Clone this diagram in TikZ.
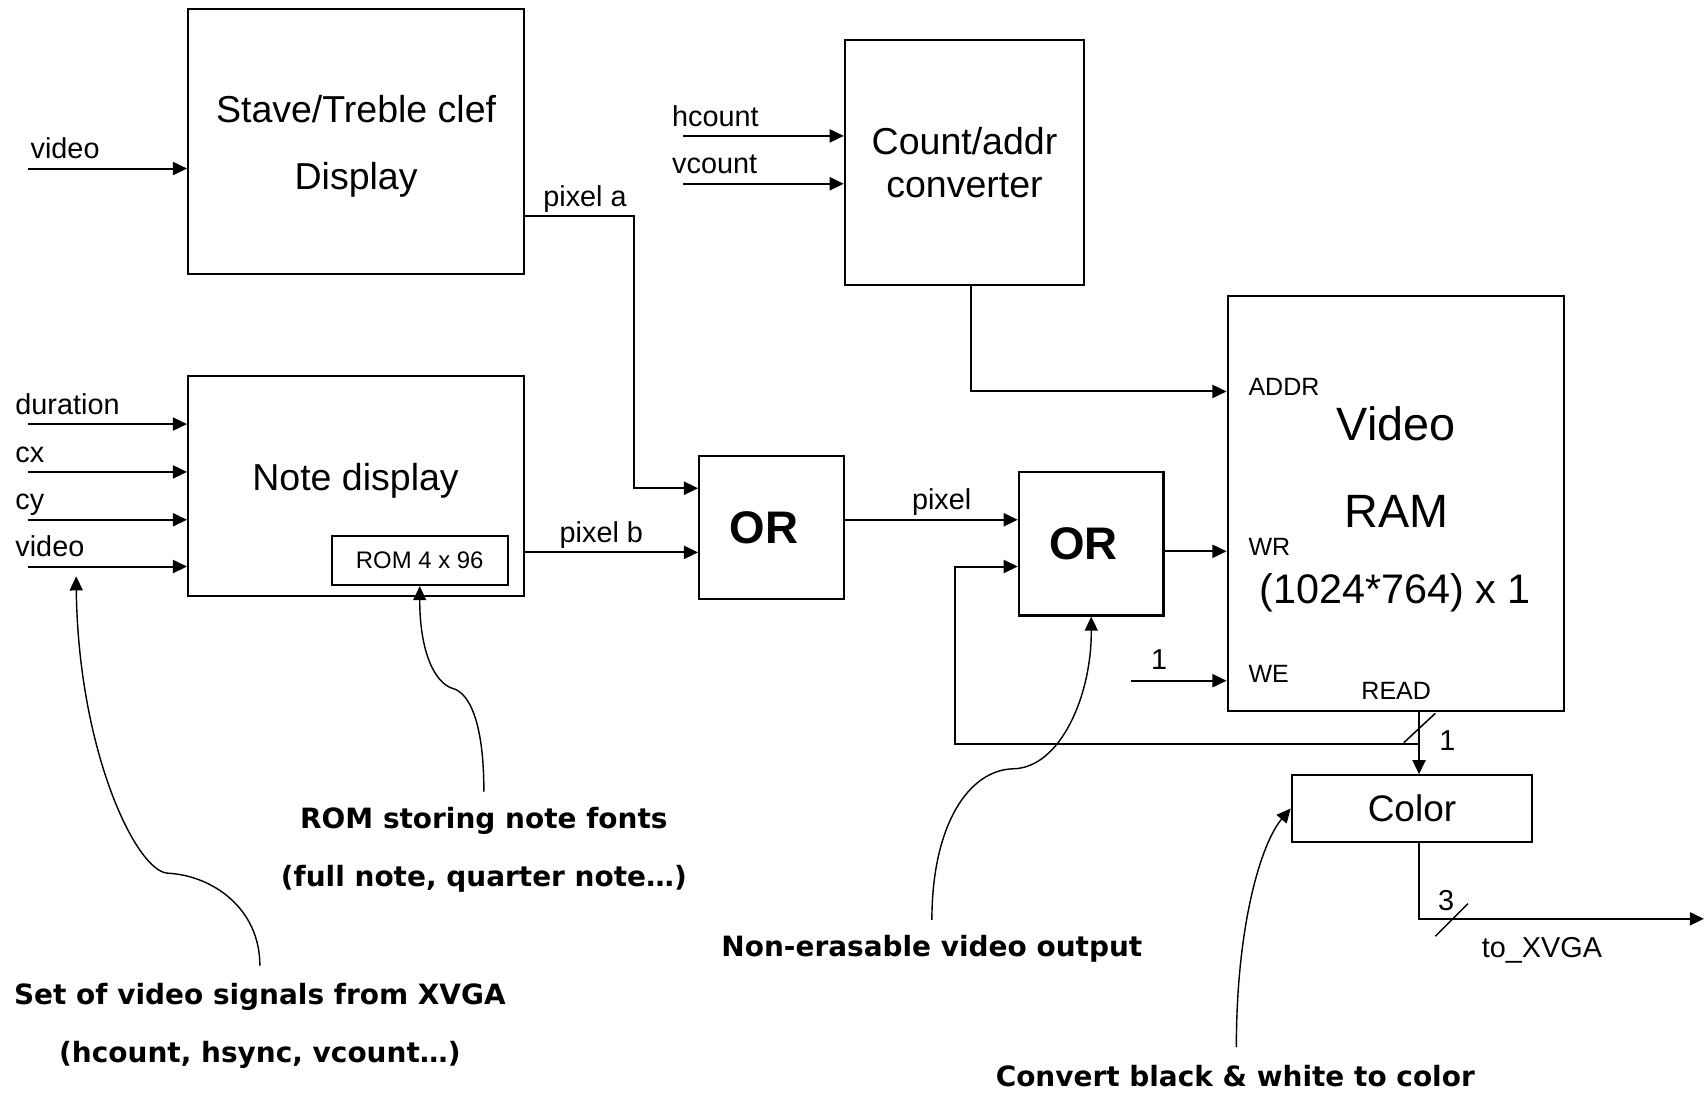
\documentclass[tikz,border=0pt]{standalone}
\usepackage{fontspec}
\setmainfont{Liberation Sans}
\newfontfamily\notefont{DejaVu Sans}
\usetikzlibrary{positioning,arrows.meta}

\begin{document}
\begin{tikzpicture}[x=1pt,y=-1pt,
  blk/.style={draw,line width=2pt,inner sep=0pt},
  wire/.style={line width=1.8pt},
  arr/.style={wire,-{Triangle[length=13pt,width=12pt]}},
  lbl/.style={font=\fontsize{26.5}{26.5}\selectfont,inner sep=0pt},
  pin/.style={font=\fontsize{23}{23}\selectfont,inner sep=0pt},
  big/.style={font=\fontsize{43}{43}\selectfont,inner sep=0pt},
  gate/.style={blk,minimum width=133pt,minimum height=132pt,
    font=\bfseries\fontsize{42}{42}\selectfont},
  note/.style={font=\notefont\bfseries\fontsize{25.7}{53}\selectfont,align=center,inner sep=0pt},
  hint/.style={line width=1.3pt,-{Triangle[length=13pt,width=12pt]}}]

  \useasboundingbox (0,0) rectangle (1568,1006);

  % --- blocks ---
  \node[blk,minimum width=309pt,minimum height=244pt] (stave) at (327.5,130) {};
  \node[align=center,inner sep=0pt,font=\fontsize{34.5}{61}\selectfont]
    (stavel) at (327.5,134.5) {Stave/Treble clef\\Display};
  \node[blk,minimum width=220pt,minimum height=225pt,align=center,
    font=\fontsize{34.5}{40}\selectfont] (count) at (887,149.5) {Count/addr\\converter};
  \node[blk,minimum width=309pt,minimum height=202pt] (note) at (327.5,447) {};
  \node[font=\fontsize{34.5}{34.5}\selectfont,inner sep=0pt] (notel) at (327,442) {Note display};
  \node[blk,minimum width=162pt,minimum height=45pt,
    font=\fontsize{22}{22}\selectfont] (rom) at (386,515.5) {ROM 4 x 96};
  \node[gate] (or1) at (709.5,485) {OR\hspace*{14pt}};
  \node[gate] (or2) at (1003.5,500) {OR\hspace*{14pt}};
  \node[blk,minimum width=309pt,minimum height=382pt] (ram) at (1283.5,463) {};
  \node[blk,minimum width=221pt,minimum height=61pt,
    font=\fontsize{34}{34}\selectfont] (color) at (1298.5,743.5) {Color};

  % --- RAM texts ---
  \node[big,anchor=base] (ramv) at (1284,405) {Video};
  \node[big,anchor=base] (ramr) at (1284,485) {RAM};
  \node[font=\fontsize{38}{38}\selectfont,inner sep=0pt,anchor=base] (rams) at (1283,555) {(1024*764) x 1};
  \node[pin,anchor=base west] (addrl) at (1148,364) {ADDR};
  \node[pin,anchor=base west] (wrl) at (1148,511) {WR};
  \node[pin,anchor=base west] (wel) at (1148,628) {WE};
  \node[pin,anchor=base] (readl) at (1284,643) {READ};

  % --- inputs ---
  \coordinate (vin) at (26,155);
  \draw[arr] (vin) -- (vin -| stave.west);
  \node[lbl,anchor=base west] (vinl) at (28,146) {video};
  \foreach \y/\t/\n in {390/duration/dur,434/cx/cx,478/cy/cy,521/video/vid}{
    \coordinate (\n) at (26,\y);
    \draw[arr] (\n) -- (\n -| note.west);
    \node[lbl,anchor=base west] (\n l) at (14,\y-9) {\t};
  }
  \foreach \y/\t/\n in {125/hcount/hc,169/vcount/vc}{
    \coordinate (\n) at (628,\y);
    \draw[arr] (\n) -- (\n -| count.west);
    \node[lbl,anchor=base west] (\n l) at (618,\y-9) {\t};
  }

  % --- pixel path ---
  \draw[arr] ([yshift=-69pt]stave.east) -| (583,449) -- ([yshift=36pt]or1.west);
  \node[lbl,anchor=base] (pal) at (538,190) {pixel a};
  \draw[arr] ([yshift=-61pt]note.east) -- ([yshift=-23pt]or1.west);
  \node[lbl,anchor=base] (pbl) at (553,499) {pixel b};
  \draw[arr] ([yshift=7pt]or1.east) -- ([yshift=22pt]or2.west);
  \node[lbl,anchor=base] (pxl) at (866,469) {pixel};
  \draw[arr] ([yshift=-7pt]or2.east) -- ([yshift=-44pt]ram.west);
  \draw[arr] ([xshift=6pt]count.south) |- ([yshift=103pt]ram.west);
  \coordinate (we) at (1040,626);
  \draw[arr] (we) -- (we -| ram.west);
  \node[lbl,anchor=base] (wev) at (1066,616) {1};

  % --- read back / out ---
  \coordinate (rd) at (1305,654);
  \draw[arr] (rd) -- (rd |- color.north);
  \coordinate (fb) at (1305,684);
  \draw[arr] (fb) -- (878,684) -- (878,521) -- ([yshift=-21pt]or2.west);
  \draw[wire,line width=1.4pt] (1291,683) -- (1320,656);
  \node[lbl,anchor=base] (rdw) at (1331,690) {1};
  \coordinate (xvga) at (1567,845);
  \draw[arr] ([xshift=6.5pt]color.south) |- (xvga);
  \draw[wire,line width=1.4pt] (1320,861) -- (1350,831);
  \node[lbl,anchor=base] (cw) at (1330,837) {3};
  \node[lbl,anchor=base] (xvgal) at (1418,881) {to\_XVGA};

  % --- notes ---
  \node[note] (romtxt) at (445,781.5) {ROM storing note fonts\\(full note, quarter note…)};
  \node[note] (settxt) at (239,943.5) {Set of video signals from XVGA\\(hcount, hsync, vcount…)};
  \node[note] (nontxt) at (857,873) {Non-erasable video output};
  \node[note] (convtxt) at (1136,990) {Convert black \& white to color};
  \coordinate (vidhint) at (70,530);

  \draw[hint] (445,728) .. controls (445,665) and (432,637) .. (416,633)
    .. controls (400,628) and (386,600) .. (rom.south);
  \draw[hint] (239,888) .. controls (239,835) and (195,805) .. (154,803)
    .. controls (125,801) and (72,690) .. (vidhint);
  \draw[hint] (857,846) .. controls (857,760) and (890,708) .. (932,707)
    .. controls (975,706) and (1004,640) .. (or2.south);
  \draw[hint] (1137,963) .. controls (1137,850) and (1160,775) .. (color.west);
\end{tikzpicture}
\end{document}
